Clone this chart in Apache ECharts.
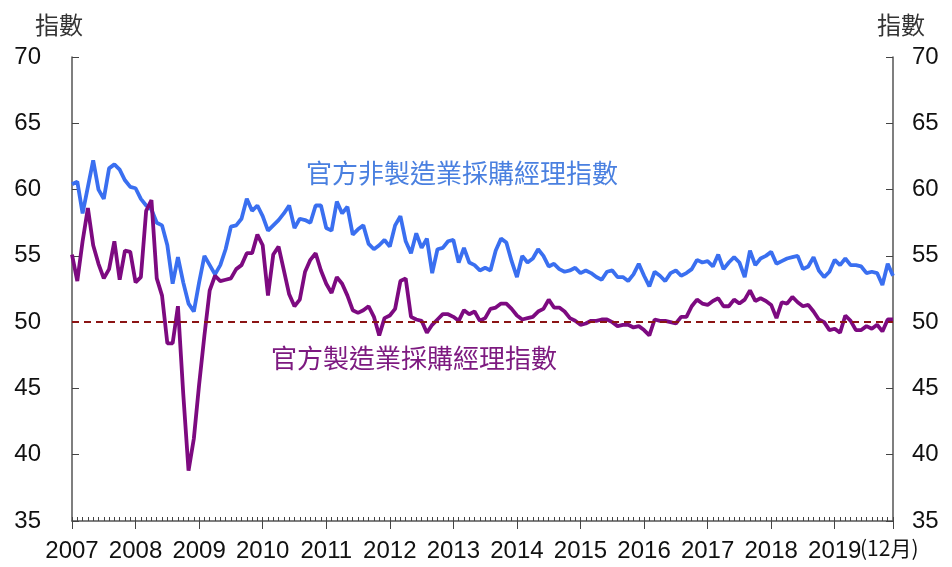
<!DOCTYPE html>
<html>
<head>
<meta charset="utf-8">
<script src="https://cdn.jsdelivr.net/npm/echarts@6/dist/echarts.min.js"></script>
<style>
html,body{margin:0;padding:0;background:#fff;}
#chart{width:952px;height:567px;}
</style>
</head>
<body>
<div id="chart"></div>
<script>
// Years shown on the x axis (monthly data Jan 2007 - Dec 2019)
const years = [2007,2008,2009,2010,2011,2012,2013,2014,2015,2016,2017,2018,2019];
const yTicks = [35,40,45,50,55,60,65,70];

// 官方非製造業採購經理指數 (monthly)
const nonMfg = [
  60.4,60.6,58.2,60.2,62.2,60.0,59.3,61.6,61.9,61.5,60.7,60.2,
  60.1,59.3,58.8,58.5,57.5,57.3,55.8,52.9,54.9,53.0,51.4,50.8,
  53.0,55.0,54.3,53.6,54.3,55.5,57.2,57.3,57.8,59.3,58.4,58.8,
  58.0,56.9,57.3,57.7,58.2,58.8,57.1,57.8,57.7,57.5,58.8,58.8,
  57.1,56.9,59.1,58.2,58.7,56.6,57.0,57.3,55.9,55.5,55.8,56.2,
  55.7,57.3,58.0,56.1,55.2,56.7,55.6,56.3,53.7,55.5,55.6,56.1,
  56.2,54.5,55.6,54.5,54.3,53.9,54.1,53.9,55.4,56.3,56.0,54.6,
  53.4,55.0,54.5,54.8,55.5,55.0,54.2,54.4,54.0,53.8,53.9,54.1,
  53.7,53.9,53.7,53.4,53.2,53.8,53.9,53.4,53.4,53.1,53.6,54.4,
  53.5,52.7,53.8,53.5,53.1,53.7,53.9,53.5,53.7,54.0,54.7,54.5,
  54.6,54.2,55.1,54.0,54.5,54.9,54.5,53.4,55.4,54.3,54.8,55.0,
  55.3,54.4,54.6,54.8,54.9,55.0,54.0,54.2,54.9,53.9,53.4,53.8,
  54.7,54.3,54.8,54.3,54.3,54.2,53.7,53.8,53.7,52.8,54.4,53.5
];

// 官方製造業採購經理指數 (monthly)
const mfg = [
  55.1,53.1,56.1,58.6,55.8,54.4,53.3,54.0,56.1,53.2,55.4,55.3,
  53.0,53.4,58.4,59.2,53.3,52.0,48.4,48.4,51.2,44.6,38.8,41.2,
  45.3,49.0,52.4,53.5,53.1,53.2,53.3,54.0,54.3,55.2,55.2,56.6,
  55.8,52.0,55.1,55.7,53.9,52.1,51.2,51.7,53.8,54.7,55.2,53.9,
  52.9,52.2,53.4,52.9,52.0,50.9,50.7,50.9,51.2,50.4,49.0,50.3,
  50.5,51.0,53.1,53.3,50.4,50.2,50.1,49.2,49.8,50.2,50.6,50.6,
  50.4,50.1,50.9,50.6,50.8,50.1,50.3,51.0,51.1,51.4,51.4,51.0,
  50.5,50.2,50.3,50.4,50.8,51.0,51.7,51.1,51.1,50.8,50.3,50.1,
  49.8,49.9,50.1,50.1,50.2,50.2,50.0,49.7,49.8,49.8,49.6,49.7,
  49.4,49.0,50.2,50.1,50.1,50.0,49.9,50.4,50.4,51.2,51.7,51.4,
  51.3,51.6,51.8,51.2,51.2,51.7,51.4,51.7,52.4,51.6,51.8,51.6,
  51.3,50.3,51.5,51.4,51.9,51.5,51.2,51.3,50.8,50.2,50.0,49.4,
  49.5,49.2,50.5,50.1,49.4,49.4,49.7,49.5,49.8,49.3,50.2,50.2
];

const threshold = 50;

const months = [];
years.forEach(y => { for (let m = 1; m <= 12; m++) months.push(y + '-' + m); });
const lastIdx = months.length - 1;

const numFont = 'Liberation Sans, Arial, sans-serif';
const cjkFont = 'Noto Sans CJK TC, Noto Sans CJK SC, sans-serif';

const chart = echarts.init(document.getElementById('chart'), null, {renderer: 'canvas'});

const yAxisBase = {
  type: 'value', min: yTicks[0], max: yTicks[yTicks.length - 1], interval: 5,
  splitLine: {show: false},
  axisLine: {show: true, lineStyle: {color: '#555', width: 1.5}},
  axisTick: {show: true, inside: true, length: 7, lineStyle: {color: '#444', width: 1}},
  axisLabel: {fontSize: 24, color: '#111', fontFamily: numFont}
};

chart.setOption({
  animation: false,
  backgroundColor: '#fff',
  grid: {left: 72, right: 59, top: 57, bottom: 46, containLabel: false},
  xAxis: [
    {
      type: 'category', data: months, boundaryGap: false, position: 'bottom',
      axisLine: {show: true, lineStyle: {color: '#555', width: 1.5}},
      axisTick: {show: true, inside: false, length: 8,
        interval: (i) => i % 12 === 0 || i === lastIdx,
        lineStyle: {color: '#444', width: 1}},
      axisLabel: {show: true, interval: (i) => i % 12 === 0,
        formatter: (v) => v.slice(0, 4),
        fontSize: 24, color: '#111', fontFamily: numFont, margin: 18},
      splitLine: {show: false}
    },
    {
      type: 'category', data: months, boundaryGap: false, position: 'bottom', offset: 0,
      axisLine: {show: false},
      axisTick: {show: true, inside: true, length: 4, interval: 0,
        lineStyle: {color: '#444', width: 1}},
      axisLabel: {show: false},
      splitLine: {show: false}
    }
  ],
  yAxis: [
    Object.assign({}, yAxisBase, {position: 'left',
      axisLabel: Object.assign({}, yAxisBase.axisLabel, {margin: 31})}),
    Object.assign({}, yAxisBase, {position: 'right',
      axisLabel: Object.assign({}, yAxisBase.axisLabel, {margin: 19})})
  ],
  series: [
    {
      name: '官方非製造業採購經理指數', type: 'line', data: nonMfg,
      xAxisIndex: 0, yAxisIndex: 0,
      showSymbol: false, symbol: 'none', smooth: false,
      lineStyle: {color: '#3a6ff0', width: 3.8},
      itemStyle: {color: '#3a6ff0'}, z: 3
    },
    {
      name: '官方製造業採購經理指數', type: 'line', data: mfg,
      xAxisIndex: 0, yAxisIndex: 0,
      showSymbol: false, symbol: 'none', smooth: false,
      lineStyle: {color: '#7d0a80', width: 3.8},
      itemStyle: {color: '#7d0a80'}, z: 4,
      markLine: {
        silent: true, symbol: ['none', 'none'], label: {show: false},
        lineStyle: {color: '#8b1414', type: [7, 5], width: 2},
        data: [{yAxis: threshold}], z: 5
      }
    }
  ],
  graphic: [
    {type: 'text', left: 35, top: 13, style: {text: '指數', fontSize: 24, fill: '#333', fontFamily: cjkFont}},
    {type: 'text', left: 877, top: 13, style: {text: '指數', fontSize: 24, fill: '#333', fontFamily: cjkFont}},
    {type: 'text', left: 306, top: 160, style: {text: '官方非製造業採購經理指數', fontSize: 26, fill: '#4a80e0', fontFamily: cjkFont}},
    {type: 'text', left: 271, top: 345, style: {text: '官方製造業採購經理指數', fontSize: 26, fill: '#7d1a80', fontFamily: cjkFont}},
    {type: 'text', left: 860, top: 538, style: {text: '(12月)', fontSize: 21, fill: '#111', fontFamily: cjkFont}}
  ]
});
</script>
</body>
</html>
